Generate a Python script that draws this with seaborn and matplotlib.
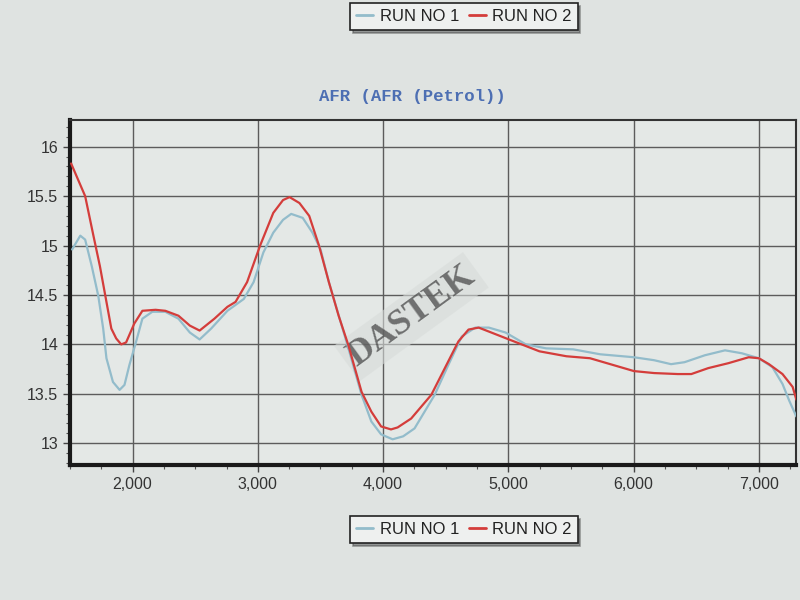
import matplotlib
matplotlib.use("Agg")
import matplotlib.pyplot as plt
from matplotlib.ticker import MultipleLocator, FuncFormatter
import seaborn as sns
import pandas as pd

# ---- data ----
rpm_run1 = [1517, 1582, 1621, 1674, 1726, 1765, 1791, 1843, 1896, 1935, 1974, 2026, 2078,
            2157, 2261, 2366, 2457, 2535, 2627, 2757, 2888, 2966, 3044, 3123, 3201, 3266,
            3358, 3436, 3501, 3567, 3723, 3828, 3906, 3984, 4076, 4160, 4251, 4412, 4520,
            4628, 4736, 4844, 4978, 5140, 5302, 5518, 5733, 6003, 6164, 6299, 6407, 6569,
            6730, 6865, 7000, 7108, 7189, 7243, 7300]
afr_run1 = [14.96, 15.10, 15.06, 14.79, 14.49, 14.16, 13.86, 13.62, 13.54, 13.59, 13.79, 14.02,
            14.26, 14.33, 14.33, 14.26, 14.12, 14.05, 14.16, 14.34, 14.46, 14.63, 14.93, 15.13,
            15.26, 15.32, 15.28, 15.13, 14.96, 14.63, 13.96, 13.49, 13.22, 13.09, 13.04, 13.07,
            13.15, 13.49, 13.79, 14.08, 14.17, 14.17, 14.12, 14.00, 13.96, 13.95, 13.90, 13.87,
            13.84, 13.80, 13.82, 13.89, 13.94, 13.91, 13.86, 13.77, 13.60, 13.43, 13.27]

rpm_run2 = [1509, 1621, 1687, 1739, 1791, 1830, 1869, 1909, 1948, 2013, 2078, 2183, 2261,
            2366, 2457, 2535, 2653, 2757, 2822, 2914, 3018, 3123, 3201, 3253, 3332, 3410,
            3488, 3567, 3645, 3723, 3828, 3906, 3984, 4063, 4116, 4224, 4385, 4493, 4601,
            4682, 4763, 4844, 5005, 5248, 5464, 5652, 5841, 6003, 6164, 6353, 6461, 6596,
            6757, 6919, 7000, 7081, 7189, 7270, 7300]
afr_run2 = [15.83, 15.50, 15.10, 14.79, 14.43, 14.16, 14.06, 14.00, 14.02, 14.21, 14.34, 14.35,
            14.34, 14.29, 14.19, 14.14, 14.26, 14.38, 14.43, 14.63, 15.00, 15.33, 15.46, 15.49,
            15.43, 15.30, 15.00, 14.63, 14.29, 13.99, 13.52, 13.32, 13.17, 13.14, 13.16, 13.25,
            13.49, 13.76, 14.03, 14.15, 14.17, 14.13, 14.05, 13.93, 13.88, 13.86, 13.79, 13.73,
            13.71, 13.70, 13.70, 13.76, 13.81, 13.87, 13.86, 13.80, 13.70, 13.57, 13.44]

series_names = ["RUN NO 1", "RUN NO 2"]
title_text = "AFR (AFR (Petrol))"

df = pd.concat([
    pd.DataFrame({"RPM": rpm_run1, "AFR": afr_run1, "Run": series_names[0]}),
    pd.DataFrame({"RPM": rpm_run2, "AFR": afr_run2, "Run": series_names[1]}),
], ignore_index=True)

paper = "#dfe3e1"
colors = {"RUN NO 1": "#93bccb", "RUN NO 2": "#d43d3b"}

sns.set_theme(style="white")
plt.rcParams["font.family"] = ["Liberation Sans Narrow", "Liberation Sans", "DejaVu Sans"]

fig = plt.figure(figsize=(8, 6), dpi=100, facecolor=paper)
ax = fig.add_axes([0.0875, 0.225, 0.908, 0.575], facecolor="#e4e8e6")
ax.set_axisbelow(True)

sns.lineplot(data=df, x="RPM", y="AFR", hue="Run", palette=colors, sort=False,
             linewidth=1.6, ax=ax, legend=False, zorder=3)

ax.set_xlim(1500, 7300)
ax.set_ylim(12.78, 16.27)
ax.xaxis.set_major_locator(MultipleLocator(1000))
ax.xaxis.set_minor_locator(MultipleLocator(250))
ax.yaxis.set_major_locator(MultipleLocator(0.5))
ax.yaxis.set_minor_locator(MultipleLocator(0.1))
ax.xaxis.set_major_formatter(FuncFormatter(lambda v, p: f"{int(v):,}"))
ax.yaxis.set_major_formatter(FuncFormatter(lambda v, p: f"{v:g}"))
ax.grid(True, which="major", color="#5c5c5c", linewidth=1.0)
ax.tick_params(axis="both", which="major", direction="out", length=5, width=1,
               color="#444444", labelsize=11.5, labelcolor="#333333", bottom=True, left=True)
ax.tick_params(axis="both", which="minor", direction="out", length=3, width=0.8,
               color="#555555", bottom=True, left=True)
ax.set_xlabel("")
ax.set_ylabel("")
for side in ["left", "bottom"]:
    ax.spines[side].set_linewidth(3)
    ax.spines[side].set_color("#1a1a1a")
for side in ["top", "right"]:
    ax.spines[side].set_linewidth(1.5)
    ax.spines[side].set_color("#333333")

fig.text(0.515, 0.84, title_text, ha="center", va="center", fontsize=12.5,
         fontweight="bold", color="#4d6fb3", family=["Liberation Mono", "DejaVu Sans Mono"])

# watermark (under the lines)
ax.text(0.47, 0.43, "DASTEK", transform=ax.transAxes, rotation=36, ha="center", va="center",
        fontsize=26, fontweight="bold", color="#4a4a4a", alpha=0.75, zorder=1.5,
        family=["Liberation Serif", "DejaVu Serif"],
        bbox=dict(boxstyle="square,pad=0.15", facecolor="#d8dcda", edgecolor="none", alpha=0.6))

handles = [plt.Line2D([], [], color=colors[n], linewidth=2) for n in series_names]
for ypos in (0.972, 0.117):
    leg = fig.legend(handles, series_names, loc="center", bbox_to_anchor=(0.58, ypos),
                     ncol=2, frameon=True, fontsize=12, handlelength=1.0, handletextpad=0.4,
                     columnspacing=0.6, borderpad=0.35, fancybox=False, shadow=True)
    leg.get_frame().set_edgecolor("#222222")
    leg.get_frame().set_linewidth(1.2)
    leg.get_frame().set_facecolor("#eef0ef")
    for t in leg.get_texts():
        t.set_color("#222222")

fig.savefig("out.png", dpi=100, facecolor=paper)
